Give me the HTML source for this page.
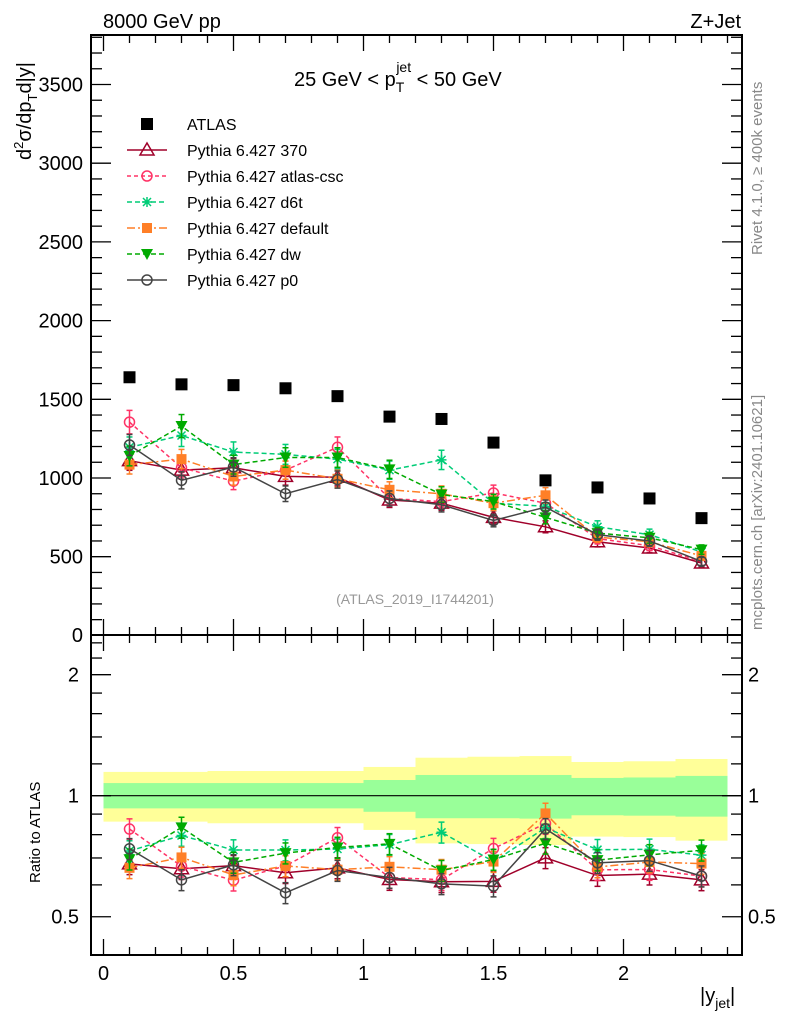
<!DOCTYPE html>
<html><head><meta charset="utf-8">
<style>
html,body{margin:0;padding:0;background:#fff;}
svg{display:block;font-family:"Liberation Sans",sans-serif;}
</style></head>
<body>
<svg id="plot" width="786" height="1024" viewBox="0 0 786 1024" xmlns="http://www.w3.org/2000/svg">
<g id="bands"></g>
<g id="series"></g>
<g id="axes"></g>
<text x="103" y="28" font-size="20">8000 GeV pp</text>
<text x="741" y="28" font-size="20" text-anchor="end">Z+Jet</text>
<text x="294" y="86" font-size="20">25 GeV &lt; p<tspan font-size="14" dy="6">T</tspan><tspan font-size="14" dx="-8" dy="-20">jet</tspan><tspan dy="14"> &lt; 50 GeV</tspan></text>
<text transform="translate(31,160) rotate(-90)" font-size="20">d<tspan font-size="13" dy="-8">2</tspan><tspan dy="8">σ/dp</tspan><tspan font-size="13" dy="6">T</tspan><tspan dy="-6">d|y|</tspan></text>
<text transform="translate(40,883) rotate(-90)" font-size="15">Ratio to ATLAS</text>
<text transform="translate(762,255) rotate(-90)" font-size="15" fill="#888">Rivet 4.1.0, ≥ 400k events</text>
<text transform="translate(762,630) rotate(-90)" font-size="15" fill="#888">mcplots.cern.ch [arXiv:2401.10621]</text>
<text x="415" y="604" font-size="14" fill="#999" text-anchor="middle">(ATLAS_2019_I1744201)</text>
<text x="700" y="1002" font-size="20">|y<tspan font-size="14" dy="6">jet</tspan><tspan dy="-6">|</tspan></text>
<g id="legend"></g>
</svg>
<script>
const xCenters=[0.1,0.3,0.5,0.7,0.9,1.1,1.3,1.5,1.7,1.9,2.1,2.3];
const atlas=[1640,1595,1590,1570,1520,1390,1375,1225,985,940,870,745];
const p370=[1110,1050,1065,1010,1005,860,840,750,690,595,555,460];
const pCsc=[1355,1065,980,1050,1195,870,850,905,840,615,570,470];
const pD6t=[1195,1270,1165,1150,1120,1050,1115,840,820,690,640,530];
const pDefault=[1085,1120,1010,1050,995,925,900,840,890,625,595,505];
const pDw=[1140,1330,1085,1130,1130,1055,895,850,750,650,620,545];
const pP0=[1210,985,1070,900,990,870,830,730,815,640,600,470];
const bandEdges=[0,0.4,0.6,0.8,1.0,1.2,1.4,1.6,1.8,2.0,2.2,2.4];
const yellowHi=[1.146,1.152,1.152,1.152,1.179,1.243,1.25,1.255,1.213,1.218,1.234];
const yellowLo=[0.862,0.854,0.854,0.854,0.822,0.761,0.758,0.754,0.791,0.789,0.773];
const greenHi=[1.075,1.075,1.075,1.075,1.094,1.126,1.126,1.126,1.107,1.11,1.12];
const greenLo=[0.930,0.930,0.930,0.930,0.912,0.879,0.879,0.877,0.894,0.892,0.887];
const mainTicks=[500,1000,1500,2000,2500,3000,3500];
const ratioTicks=[0.5,1,2];
const xTicks=[0,0.5,1,1.5,2];

const NS="http://www.w3.org/2000/svg";
const L=91,R=742,T=35,MB=635,RB=955;
const X=v=>103.5+v*260;
const Y=v=>635.4-v*(78.7/500);
const YR=r=>795.7-402*Math.log10(r);
function mk(tag,attrs,parent){const e=document.createElementNS(NS,tag);for(const k in attrs)e.setAttribute(k,attrs[k]);parent.appendChild(e);return e;}
const bands=document.getElementById('bands'),series=document.getElementById('series'),axes=document.getElementById('axes'),legend=document.getElementById('legend');

for(let i=0;i<yellowHi.length;i++){
  const x0=X(bandEdges[i]),x1=X(bandEdges[i+1]);
  const y=mk('rect',{x:x0,y:YR(yellowHi[i]),width:x1-x0,height:YR(yellowLo[i])-YR(yellowHi[i]),fill:'#ffff99'},bands);
  
  
  const g=mk('rect',{x:x0,y:YR(greenHi[i]),width:x1-x0,height:YR(greenLo[i])-YR(greenHi[i]),fill:'#99ff99'},bands);
  
  
}
const one=mk('line',{x1:L,x2:R,y1:YR(1),y2:YR(1),stroke:'#000','stroke-width':1.2},bands);



function marker(kind,cx,cy,color,parent){
  let e;
  if(kind==='sq') e=mk('rect',{x:cx-6,y:cy-6,width:12,height:12,fill:color},parent);
  else if(kind==='ssq') e=mk('rect',{x:cx-5,y:cy-5,width:10,height:10,fill:color},parent);
  else if(kind==='tri') e=mk('path',{d:`M${cx},${cy-7}L${cx+7},${cy+5}L${cx-7},${cy+5}Z`,fill:'none',stroke:color,'stroke-width':1.5},parent);
  else if(kind==='tdn') e=mk('path',{d:`M${cx-6},${cy-5}L${cx+6},${cy-5}L${cx},${cy+6}Z`,fill:color},parent);
  else if(kind==='circ') e=mk('circle',{cx:cx,cy:cy,r:5,fill:'none',stroke:color,'stroke-width':1.5},parent);
  else if(kind==='star') e=mk('path',{d:`M${cx-5},${cy}H${cx+5}M${cx},${cy-5}V${cy+5}M${cx-4},${cy-4}L${cx+4},${cy+4}M${cx-4},${cy+4}L${cx+4},${cy-4}`,stroke:color,'stroke-width':1.5},parent);
  return e;
}
const defs=[
 {name:'Pythia 6.427 370',d:p370,c:'#a0002a',m:'tri',dash:''},
 {name:'Pythia 6.427 atlas-csc',d:pCsc,c:'#ff3366',m:'circ',dash:'4,3'},
 {name:'Pythia 6.427 d6t',d:pD6t,c:'#00cc77',m:'star',dash:'5,3'},
 {name:'Pythia 6.427 default',d:pDefault,c:'#ff7f27',m:'ssq',dash:'8,3,2,3'},
 {name:'Pythia 6.427 dw',d:pDw,c:'#00aa00',m:'tdn',dash:'5,3'},
 {name:'Pythia 6.427 p0',d:pP0,c:'#444444',m:'circ',dash:''}
];
defs.forEach((s,si)=>{
  const g=mk('g',{},series);
  
  
  const ptsM=s.d.map((v,i)=>X(xCenters[i])+','+Y(v)).join(' ');
  const ptsR=s.d.map((v,i)=>X(xCenters[i])+','+YR(v/atlas[i])).join(' ');
  mk('polyline',{points:ptsM,fill:'none',stroke:s.c,'stroke-width':1.5,'stroke-dasharray':s.dash},g);
  mk('polyline',{points:ptsR,fill:'none',stroke:s.c,'stroke-width':1.5,'stroke-dasharray':s.dash},g);
  s.d.forEach((v,i)=>{
    const x=X(xCenters[i]);
    const e=v*0.055;
    mk('line',{x1:x,x2:x,y1:Y(v+e),y2:Y(v-e),stroke:s.c,'stroke-width':1.5},g);
    mk('line',{x1:x-3,x2:x+3,y1:Y(v+e),y2:Y(v+e),stroke:s.c,'stroke-width':1.5},g);
    mk('line',{x1:x-3,x2:x+3,y1:Y(v-e),y2:Y(v-e),stroke:s.c,'stroke-width':1.5},g);
    const pt=marker(s.m,x,Y(v),s.c,g);
    
    
    const r=v/atlas[i];
    mk('line',{x1:x,x2:x,y1:YR(r*1.06),y2:YR(r*0.94),stroke:s.c,'stroke-width':1.5},g);
    mk('line',{x1:x-3,x2:x+3,y1:YR(r*1.06),y2:YR(r*1.06),stroke:s.c,'stroke-width':1.5},g);
    mk('line',{x1:x-3,x2:x+3,y1:YR(r*0.94),y2:YR(r*0.94),stroke:s.c,'stroke-width':1.5},g);
    const pr=marker(s.m,x,YR(r),s.c,g);
    
    
  });
  const ly=150+si*26;
  mk('line',{x1:127,x2:167,y1:ly,y2:ly,stroke:s.c,'stroke-width':1.5,'stroke-dasharray':s.dash},legend);
  marker(s.m,147,ly,s.c,legend);
  const t=mk('text',{x:187,y:ly+6,'font-size':16},legend);
  t.textContent=s.name;
  
  
});
const ag=mk('g',{},series);


atlas.forEach((v,i)=>{
  const p=marker('sq',X(xCenters[i]),Y(v),'#000',ag);
  
  
});
marker('sq',147,124,'#000',legend);
const lt=mk('text',{x:187,y:130,'font-size':16},legend);
lt.textContent='ATLAS';



// frames
mk('rect',{x:L,y:T,width:R-L,height:MB-T,fill:'none',stroke:'#000','stroke-width':2},axes);
mk('rect',{x:L,y:MB,width:R-L,height:RB-MB,fill:'none',stroke:'#000','stroke-width':2},axes);
// main y ticks
for(let v=100;v<=3800;v+=100){
  const big=v%500===0, y=Y(v);
  mk('line',{x1:L,x2:L+(big?20:11),y1:y,y2:y,stroke:'#000','stroke-width':1.3},axes);
  mk('line',{x1:R,x2:R-(big?20:11),y1:y,y2:y,stroke:'#000','stroke-width':1.3},axes);
}
mainTicks.forEach(v=>{const t=mk('text',{x:83,y:Y(v)+7,'font-size':20,'text-anchor':'end'},axes);t.textContent=v;

});
const z=mk('text',{x:83,y:642,'font-size':20,'text-anchor':'end'},axes);z.textContent='0';
// ratio ticks
[0.4,0.6,0.7,0.8,0.9,1.2,1.4,1.6,1.8,2.2,2.4].forEach(r=>{if(YR(r)<MB+2||YR(r)>RB)return;const y=YR(r);
 mk('line',{x1:L,x2:L+11,y1:y,y2:y,stroke:'#000','stroke-width':1.3},axes);
 mk('line',{x1:R,x2:R-11,y1:y,y2:y,stroke:'#000','stroke-width':1.3},axes);});
ratioTicks.forEach(r=>{const y=YR(r);
 mk('line',{x1:L,x2:L+20,y1:y,y2:y,stroke:'#000','stroke-width':1.3},axes);
 mk('line',{x1:R,x2:R-20,y1:y,y2:y,stroke:'#000','stroke-width':1.3},axes);
 const t=mk('text',{x:79,y:y+7,'font-size':20,'text-anchor':'end'},axes);t.textContent=r;
 
 
 const t2=mk('text',{x:748,y:y+7,'font-size':20},axes);t2.textContent=r;
 
 });
// x ticks
for(let k=0;k<=24;k++){const v=k/10,x=X(v),big=k%5===0;
 [MB,RB].forEach(b=>{mk('line',{x1:x,x2:x,y1:b,y2:b-(big?16:8),stroke:'#000','stroke-width':1.3},axes);});
 mk('line',{x1:x,x2:x,y1:T,y2:T+(big?16:8),stroke:'#000','stroke-width':1.3},axes);
 mk('line',{x1:x,x2:x,y1:MB,y2:MB+(big?16:8),stroke:'#000','stroke-width':1.3},axes);}
xTicks.forEach(v=>{const t=mk('text',{x:X(v),y:980,'font-size':20,'text-anchor':'middle'},axes);t.textContent=v;
 
 });
</script>
</body></html>
